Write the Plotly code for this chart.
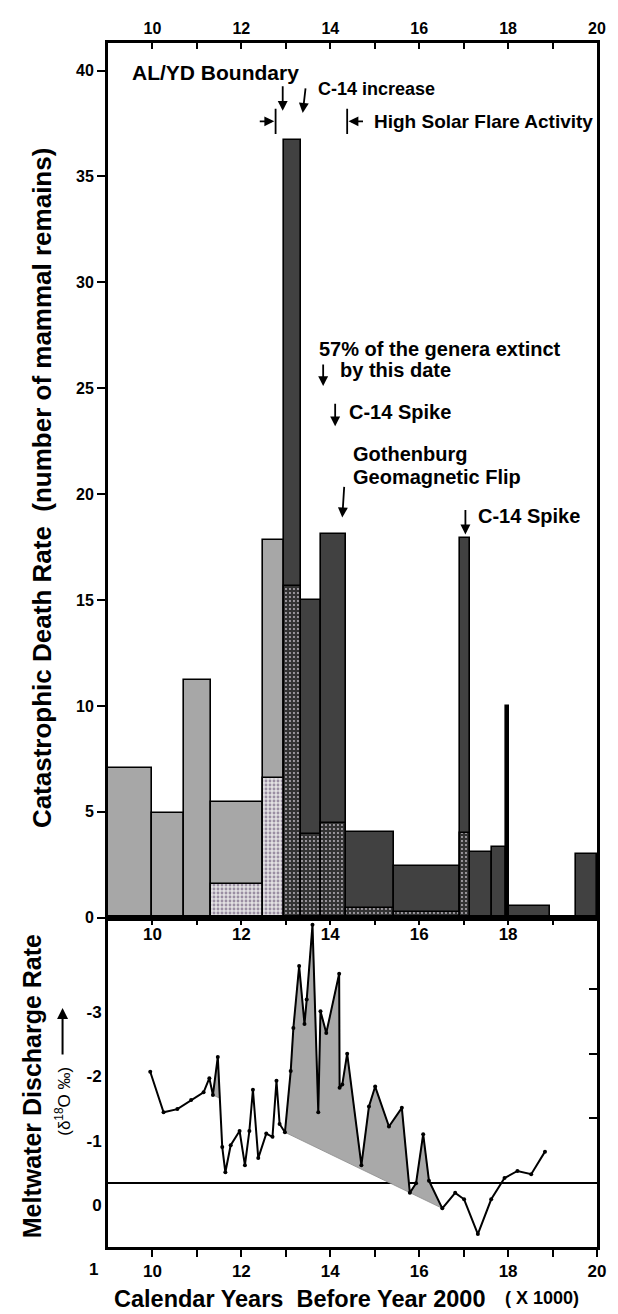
import numpy as np
import plotly.graph_objects as go

# ---------------- data: top panel (catastrophic death rate) ----------------
bin_start = [9.00, 10.00, 10.70, 11.31, 12.48, 12.96, 13.34, 13.80, 14.36, 15.43, 16.91, 17.15, 17.63, 17.96, 18.02, 19.52]
bin_end   = [10.00, 10.70, 11.31, 12.48, 12.96, 13.34, 13.80, 14.36, 15.43, 16.91, 17.15, 17.63, 17.96, 18.02, 18.95, 20.00]
death_rate    = [7.05, 4.95, 11.22, 5.45, 17.85, 36.7, 15.0, 18.1, 4.05, 2.42, 17.95, 3.1, 3.35, 10.0, 0.55, 3.02]
stippled_part = [0, 0, 0, 1.6, 6.6, 15.65, 3.97, 4.45, 0.45, 0.28, 3.98, 0, 0, 0, 0, 0]
bin_class     = ["A", "A", "A", "A", "A", "B", "B", "B", "B", "B", "B", "B", "B", "C", "B", "B"]

# ---------------- data: bottom panel (meltwater d18O) ----------------
melt_age = [9.95, 10.25, 10.56, 10.87, 11.15, 11.28, 11.36, 11.47, 11.57, 11.64,
            11.76, 11.96, 12.08, 12.18, 12.26, 12.38, 12.56, 12.70, 12.79, 12.86,
            12.98, 13.11, 13.17, 13.30, 13.42, 13.47, 13.60, 13.73, 13.78, 13.91,
            14.20, 14.21, 14.27, 14.38, 14.70, 14.87, 15.01, 15.32, 15.61, 15.79,
            15.93, 16.09, 16.22, 16.52, 16.81, 17.01, 17.32, 17.62, 17.92, 18.21,
            18.52, 18.83]
melt_d18o = [-1.72, -1.09, -1.14, -1.28, -1.40, -1.62, -1.36, -1.95, -0.55, -0.16,
             -0.58, -0.80, -0.27, -0.80, -1.44, -0.38, -0.76, -0.71, -1.58, -0.91,
             -0.78, -1.73, -2.40, -3.36, -2.46, -2.84, -4.00, -1.09, -2.66, -2.32,
             -3.24, -1.47, -1.52, -2.00, -0.27, -1.18, -1.49, -0.87, -1.16, 0.16,
             0.01, -0.75, -0.03, 0.40, 0.16, 0.26, 0.80, 0.26, -0.07, -0.18,
             -0.13, -0.48]
assert len(melt_age) == len(melt_d18o)

# shaded episodes: (first index, last index) along the series, baseline is the chord
big_fill = (20, 43)
small_fill_start = 6

x_ticks = [10, 11, 12, 13, 14, 15, 16, 17, 18, 19, 20]
y_ticks_top = [0, 5, 10, 15, 20, 25, 30, 35, 40]
y_labels_bottom = ["-3", "-2", "-1", "0"]
y_label_values_bottom = [-3, -2, -1, 0]

# ---------------- styling ----------------
FONT = "Liberation Sans, Arial, Helvetica, sans-serif"
fill_col = {"A": "#a7a7a7", "B": "#414141", "C": "#000000"}
stip_bg = {"A": "#e2e0e2", "B": "#333333"}
stip_fg = {"A": "#9a8ea2", "B": "#bdb8c0"}
stip_sol = {"A": 0.4, "B": 0.18}

# page geometry (absolute page pixels; browser adds an 8px body margin)
PAGE_W, PAGE_H = 618, 1314
OFF = 8
PL, PR, PT, PB = 108, 603, 33, 1247   # plot area in page pixels
W, H = PAGE_W - OFF, PAGE_H - OFF
L, T = PL - OFF, PT - OFF
R = W - (PR - OFF)
B = H - (PB - OFF)
plot_h = PB - PT
split_px = 915  # boundary between the two panels
D = (PB - split_px) / plot_h
TOP_RANGE = [0, 41.3]
BOT_RANGE = [1.0, -4.11]
LABEL_SHIFT = 0.35  # tick labels in original sit slightly below their ticks


def px_to_paper_x(px):
    return (px - PL) / (PR - PL)


def px_to_paper_y(py):
    return (PB - py) / plot_h


fig = go.Figure()

# ---- top panel bars ----
bs = np.array(bin_start); be = np.array(bin_end)
centers = (bs + be) / 2
widths = be - bs
fig.add_trace(go.Bar(
    x=centers, y=death_rate, width=widths, base=0,
    marker=dict(color=[fill_col[c] for c in bin_class],
                line=dict(color="black", width=1.6)),
    xaxis="x", yaxis="y", hoverinfo="skip"))

for cls in ["A", "B"]:
    idx = [i for i, (c, s) in enumerate(zip(bin_class, stippled_part)) if c == cls and s > 0]
    fig.add_trace(go.Bar(
        x=centers[idx], y=[stippled_part[i] for i in idx], width=widths[idx], base=0,
        marker=dict(color=stip_bg[cls],
                    pattern=dict(shape=".", bgcolor=stip_bg[cls], fgcolor=stip_fg[cls],
                                 size=4, solidity=stip_sol[cls], fillmode="replace"),
                    line=dict(color="black", width=1.6)),
        xaxis="x", yaxis="y", hoverinfo="skip"))

# ---- bottom panel ----
ma = np.array(melt_age); md = np.array(melt_d18o)
i0, i1 = big_fill
fx = list(ma[i0:i1 + 1]) + [ma[i0]]
fy = list(md[i0:i1 + 1]) + [md[i0]]
fig.add_trace(go.Scatter(x=fx, y=fy, fill="toself", fillcolor="#a9a9a9",
                         line=dict(color="#8a8a8a", width=0.8), mode="lines",
                         xaxis="x2", yaxis="y2", hoverinfo="skip"))
# small episode: chord from start point with the same slope as the big chord
slope = (md[i1] - md[i0]) / (ma[i1] - ma[i0])
s = small_fill_start
xa, ya = ma[s + 1], md[s + 1]
xb, yb = ma[s + 2], md[s + 2]
seg_slope = (yb - ya) / (xb - xa)
xi = (ya - seg_slope * xa - md[s] + slope * ma[s]) / (slope - seg_slope)
yi = md[s] + slope * (xi - ma[s])
fig.add_trace(go.Scatter(x=[ma[s], xa, xi, ma[s]], y=[md[s], ya, yi, md[s]], fill="toself",
                         fillcolor="#a9a9a9", line=dict(color="#8a8a8a", width=0.8),
                         mode="lines", xaxis="x2", yaxis="y2", hoverinfo="skip"))
fig.add_trace(go.Scatter(x=melt_age, y=melt_d18o, mode="lines+markers",
                         line=dict(color="black", width=2),
                         marker=dict(color="black", size=4),
                         xaxis="x2", yaxis="y2", hoverinfo="skip"))
# empty trace to carry the extra tick axes
fig.add_trace(go.Scatter(x=[], y=[], xaxis="x3", yaxis="y3", showlegend=False))

axis_common = dict(showgrid=False, showline=True, linecolor="black", linewidth=3,
                   tickcolor="black", tickwidth=1.6)
tick_font = dict(family=FONT, size=16, color="black", weight="bold")
tick_font17 = dict(family=FONT, size=17, color="black", weight="bold")

fig.update_layout(
    width=W, height=H,
    margin=dict(l=L, r=R, t=T, b=B, pad=0),
    paper_bgcolor="white", plot_bgcolor="white",
    showlegend=False, barmode="overlay", bargap=0,
    font=dict(family=FONT, color="black"),
    xaxis=dict(domain=[0, 1], anchor="y", side="top", range=[9, 20],
               tickvals=x_ticks, ticktext=[str(v) if v % 2 == 0 else "" for v in x_ticks],
               ticks="inside", ticklen=6, mirror=True, zeroline=False,
               tickfont=tick_font, **axis_common),
    yaxis=dict(domain=[D, 1], anchor="x", range=TOP_RANGE, tickvals=y_ticks_top,
               ticks="outside", ticklen=8, mirror=True, zeroline=False,
               tickfont=tick_font, **axis_common),
    xaxis2=dict(domain=[0, 1], anchor="y2", side="bottom", range=[9, 20],
                tickvals=x_ticks, ticktext=[str(v) if v % 2 == 0 else "" for v in x_ticks],
                ticks="outside", ticklen=7, mirror=True, zeroline=False,
                tickfont=tick_font17, **axis_common),
    yaxis2=dict(domain=[0, D], anchor="x2", range=BOT_RANGE,
                tickvals=[v + LABEL_SHIFT for v in y_label_values_bottom], ticktext=y_labels_bottom,
                ticks="", mirror=True, zeroline=True, zerolinecolor="black", zerolinewidth=1.5,
                tickfont=tick_font17, **axis_common),
    xaxis3=dict(overlaying="x2", anchor="y2", side="top", range=[9, 20],
                tickvals=x_ticks[:-1],
                ticktext=[str(v) if v % 2 == 0 else "" for v in x_ticks[:-1]],
                ticks="inside", ticklen=7, tickwidth=1.6, tickcolor="black",
                ticklabelposition="inside", ticklabelstandoff=4,
                showline=False, showgrid=False, zeroline=False,
                tickfont=tick_font17),
    yaxis3=dict(overlaying="y2", anchor="x2", side="right", range=BOT_RANGE,
                tickvals=[-4, -3, -2, -1, 0], ticks="inside", ticklen=8, tickwidth=1.6,
                tickcolor="black", showticklabels=False, showline=False, showgrid=False,
                zeroline=False),
)

ann = []
# bottom "1" label sits below the frame in the original
frac = (1 + LABEL_SHIFT - BOT_RANGE[0]) / (BOT_RANGE[1] - BOT_RANGE[0])
ann.append(dict(text="<b>1</b>", xref="paper", yref="paper", x=px_to_paper_x(100), y=frac * D,
                xanchor="right", yanchor="middle", showarrow=False,
                font=dict(family=FONT, size=17, color="black")))

# text labels in the top panel
top_labels = [
    ("AL/YD Boundary", 9.49, 39.9, 21),
    ("C-14 increase", 13.67, 39.14, 18),
    ("High Solar Flare Activity", 14.93, 37.6, 19),
    ("57% of the genera extinct", 13.71, 26.87, 20),
    ("by this date", 14.18, 25.84, 20),
    ("C-14 Spike", 14.38, 23.9, 20),
    ("Gothenburg", 14.46, 21.9, 20),
    ("Geomagnetic Flip", 14.46, 20.83, 20),
    ("C-14 Spike", 17.27, 18.96, 20),
]
for txt, x, y, sz in top_labels:
    ann.append(dict(text=f"<b>{txt}</b>", x=x, y=y, xref="x", yref="y",
                    xanchor="left", yanchor="middle", showarrow=False,
                    font=dict(family=FONT, size=sz, color="black")))

# arrows: tip (x, y) and tail offset in pixels
arrows = [
    (12.93, 38.1, 0, -26),
    (13.38, 38.0, 3, -26),
    (13.84, 25.1, 0, -23),
    (14.11, 23.2, 0, -24),
    (14.27, 18.9, 2, -32),
    (17.04, 18.1, 0, -26),
    (12.74, 37.6, -16, 0),
    (14.41, 37.6, 16, 0),
]
for x, y, ax, ay in arrows:
    ann.append(dict(text="", x=x, y=y, xref="x", yref="y", ax=ax, ay=ay,
                    showarrow=True, arrowhead=2, arrowsize=1.1, arrowwidth=1.8,
                    arrowcolor="black", standoff=0))

# axis titles
ann.append(dict(text="<b>Catastrophic Death Rate  (number of mammal remains)</b>",
                xref="paper", yref="paper", x=px_to_paper_x(41), y=px_to_paper_y(481),
                textangle=-90, showarrow=False, xanchor="center", yanchor="middle",
                font=dict(family=FONT, size=26, color="black")))
ann.append(dict(text="<b>Meltwater Discharge Rate</b>",
                xref="paper", yref="paper", x=px_to_paper_x(31), y=px_to_paper_y(1085),
                textangle=-90, showarrow=False, xanchor="center", yanchor="middle",
                font=dict(family=FONT, size=25, color="black")))
ann.append(dict(text="(δ<sup>18</sup>O ‰)",
                xref="paper", yref="paper", x=px_to_paper_x(63), y=px_to_paper_y(1100),
                textangle=-90, showarrow=False, xanchor="center", yanchor="middle",
                font=dict(family=FONT, size=17, color="black")))
ann.append(dict(text="", xref="paper", yref="paper", x=px_to_paper_x(62), y=px_to_paper_y(1006),
                ax=0, ay=48, showarrow=True, arrowhead=2, arrowsize=1.1, arrowwidth=2,
                arrowcolor="black", standoff=0))
ann.append(dict(text="<b>Calendar Years  Before Year 2000</b>",
                xref="paper", yref="paper", x=px_to_paper_x(112), y=px_to_paper_y(1299),
                showarrow=False, xanchor="left", yanchor="middle",
                font=dict(family=FONT, size=23.5, color="black")))
ann.append(dict(text="<b>( X 1000)</b>",
                xref="paper", yref="paper", x=px_to_paper_x(508), y=px_to_paper_y(1298),
                showarrow=False, xanchor="left", yanchor="middle",
                font=dict(family=FONT, size=18, color="black")))
fig.update_layout(annotations=ann)

# end bars of the solar-flare interval markers
fig.add_shape(type="line", xref="x", yref="y", x0=12.77, x1=12.77, y0=37.0, y1=38.2,
              line=dict(color="black", width=1.8))
fig.add_shape(type="line", xref="x", yref="y", x0=14.38, x1=14.38, y0=37.0, y1=38.2,
              line=dict(color="black", width=1.8))

fig.write_html("out.html")
